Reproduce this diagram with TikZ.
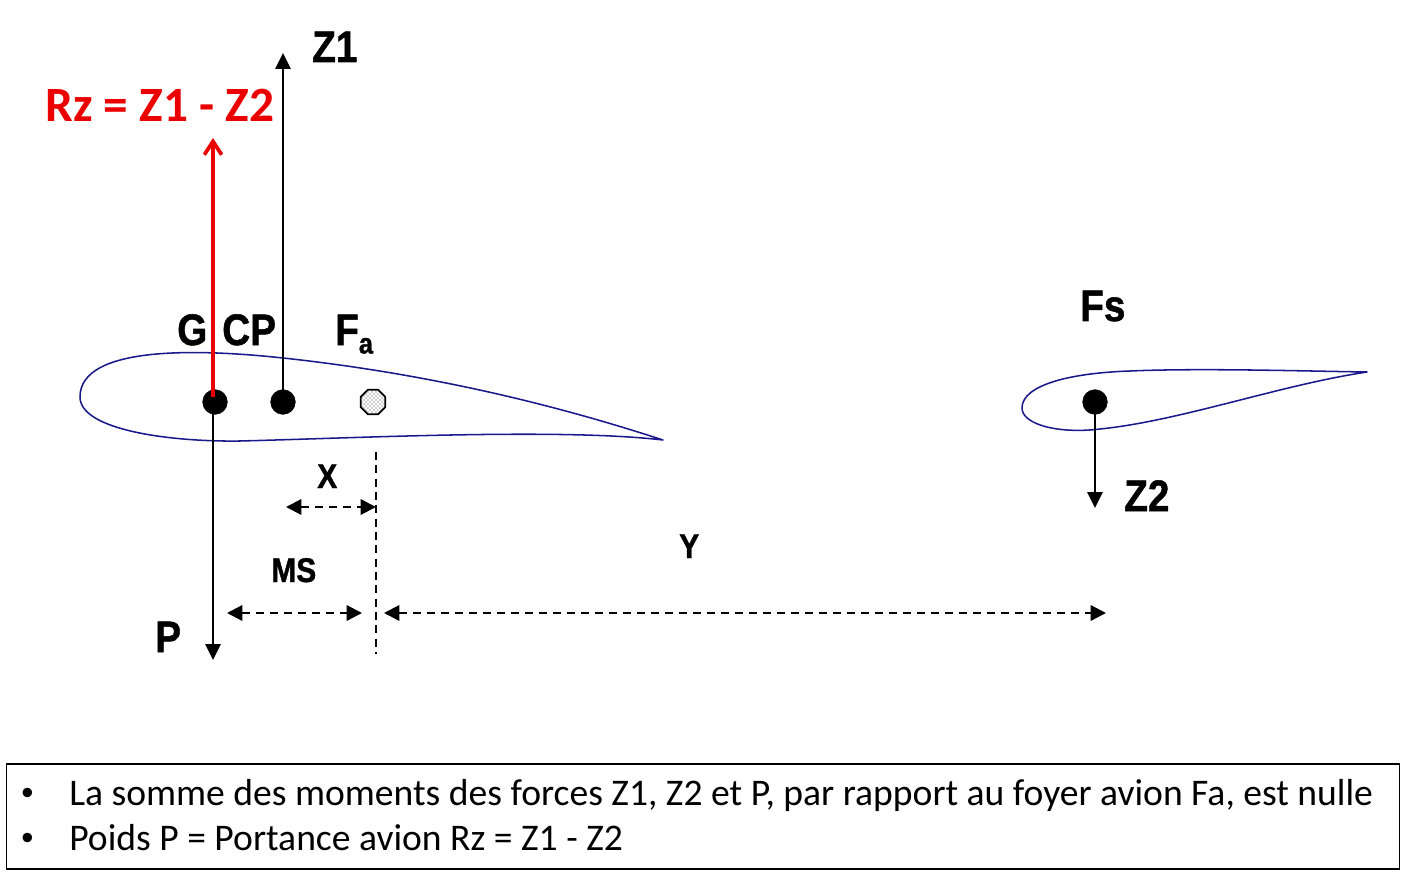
\documentclass[tikz,border=0pt]{standalone}
\usepackage{fontspec}
\setmainfont{Liberation Sans}
\newfontfamily\calib{Carlito}
\newfontfamily\heavy[FakeBold=1.2]{Liberation Sans Bold}
\usetikzlibrary{arrows.meta,patterns,shapes.geometric}
\newcommand{\tallbox}[1]{\scalebox{1}[1.14]{#1}}
\tikzset{
 force/.style={draw=black,line width=1.5pt,-{Triangle[length=12pt,width=11.5pt]}},
 redforce/.style={draw=red!92!black,line width=2.8pt,-{Straight Barb[length=10pt,width=13pt]}},
 dim/.style={draw=black,line width=1.7pt,dash pattern=on 6pt off 4.5pt,{Triangle[length=11.5pt,width=11.5pt]}-{Triangle[length=11.5pt,width=11.5pt]}},
 guide/.style={draw=black,line width=1.6pt,dash pattern=on 6pt off 4pt},
 dot/.style={circle,fill=black,draw=black,inner sep=0pt,minimum size=18.5pt},
 foil/.style={draw=blue!50!black!90,line width=1.15pt,line join=round},
 lab/.style={font=\heavy\fontsize{29}{31}\selectfont,inner sep=0pt},
 dimlab/.style={font=\heavy\fontsize{22.5}{25}\selectfont,inner sep=0pt},
 txt/.style={anchor=base west,inner sep=0pt,font=\calib\fontsize{28.2}{30}\selectfont},
}
\begin{document}
\begin{tikzpicture}[x=0.75pt,y=-0.75pt]
\useasboundingbox (0,0) rectangle (1414,884);
% airfoils
\draw[foil] (663,440) .. controls (580,413) and (450,376) .. (283,358)
 .. controls (200,349) and (80,345) .. (80,397)
 .. controls (80,430) and (170,442) .. (240,441)
 .. controls (360,438) and (560,428) .. (663,440) -- cycle;
\draw[foil] (1367,372) .. controls (1300,371) and (1200,368) .. (1130,371)
 .. controls (1070,373) and (1022,385) .. (1022,408)
 .. controls (1022,425) and (1060,434) .. (1100,429)
 .. controls (1180,421) and (1280,385) .. (1367,372) -- cycle;
% points
\node[dot] (G) at (215,402) {};
\node[dot] (CP) at (283,402) {};
\node[dot] (FS) at (1095,402) {};
\node[regular polygon,regular polygon sides=8,draw=black,line width=1.3pt,fill=white,inner sep=0pt,minimum size=20pt] (FAbg) at (373,402) {};
\node[regular polygon,regular polygon sides=8,pattern=crosshatch dots,pattern color=black!80,inner sep=0pt,minimum size=18pt] (FA) at (373,402) {};
% coordinates
\coordinate (z1end) at (283,53);
\coordinate (rzend) at (213,138);
\coordinate (rzstart) at (213,397);
\coordinate (pstart) at (213,402);
\coordinate (pend) at (213,660);
\coordinate (z2end) at (1095,508);
\coordinate (gtop) at (376,452);
\coordinate (gbot) at (376,654);
\coordinate (xa) at (286,507);
\coordinate (xb) at (376,507);
\coordinate (msa) at (227,613);
\coordinate (msb) at (362,613);
\coordinate (ya) at (384,613);
\coordinate (yb) at (1106,613);
% forces
\draw[force] (CP.center) -- (z1end);
\draw[force] (pstart) -- (pend);
\draw[force] (FS.center) -- (z2end);
\draw[redforce] (rzstart) -- (rzend);
% dims
\draw[guide] (gtop) -- (gbot);
\draw[dim] (xa) -- (xb);
\draw[dim] (msa) -- (msb);
\draw[dim] (ya) -- (yb);
% labels
\node[lab,anchor=base west] (lz1) at (312,62) {\tallbox{Z1}};
\node[lab,anchor=base west] (lg) at (177,345) {\tallbox{G}};
\node[lab,anchor=base west] (lcp) at (222,345) {\tallbox{CP}};
\node[lab,anchor=base west] (lfa) at (335,345) {\tallbox{F}\raisebox{-0.22em}{\fontsize{19}{21}\selectfont\tallbox{a}}};
\node[lab,anchor=base west] (lfs) at (1080,321) {\tallbox{Fs}};
\node[lab,anchor=base west] (lz2) at (1124,511) {\tallbox{Z2}};
\node[lab,anchor=base west] (lp) at (155,652) {\tallbox{P}};
\node[dimlab,anchor=base west] (lx) at (317,488) {\tallbox{X}};
\node[dimlab,anchor=base west] (lms) at (271,582) {\tallbox{MS}};
\node[dimlab,anchor=base west] (ly) at (679,558) {\tallbox{Y}};
\node[anchor=base west,inner sep=0pt,text=red!92!black,font=\calib\bfseries\fontsize{37}{40}\selectfont] (lrz) at (45,122) {Rz = Z1 - Z2};
% box
\node[draw=black,line width=1.2pt,anchor=north west,minimum width=1393*0.75pt,minimum height=105*0.75pt,inner sep=0pt] (box) at (5.5,763) {};
\node[anchor=base west,inner sep=0pt,font=\fontsize{26}{28}\selectfont] (t0) at (21,804) {•};
\node[txt] (t1) at (69,805) {La somme des moments des forces Z1, Z2 et P, par rapport au foyer avion Fa, est nulle};
\node[anchor=base west,inner sep=0pt,font=\fontsize{26}{28}\selectfont] (t2) at (21,849) {•};
\node[txt] (t3) at (69,850) {Poids P = Portance avion Rz = Z1 - Z2};
\end{tikzpicture}
\end{document}
